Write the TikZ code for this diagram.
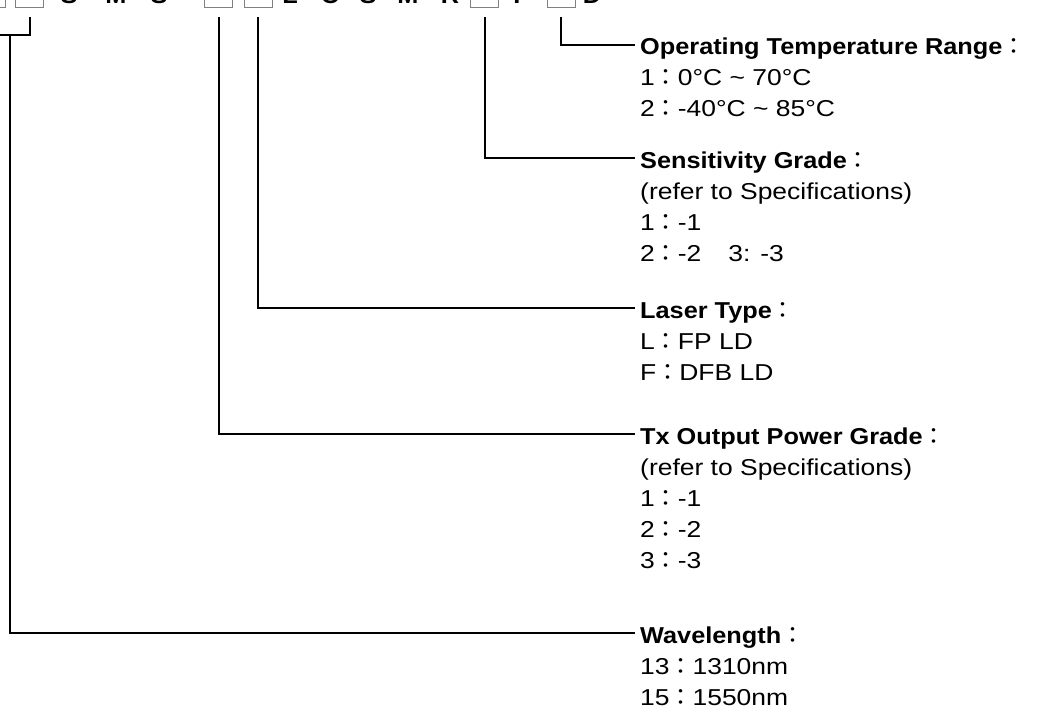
\documentclass[tikz,border=0pt]{standalone}
\usepackage{fontspec}
\setmainfont{Liberation Sans}[FakeStretch=1.15]
\newfontfamily\headfont{Liberation Sans}[FakeStretch=1.1]
\newfontfamily\cjk{Noto Sans CJK TC}
\newcommand{\fc}{{\cjk ：}}
\newcommand{\fieldhead}[1]{{\headfont\bfseries #1}\fc}
\newcommand{\fieldlist}[1]{\begin{tabular}[t]{@{}l@{}}#1\end{tabular}}

\begin{document}
\begin{tikzpicture}[x=1pt,y=-1pt]
        \tikzstyle{slot}=[draw=gray, line width=0.8pt, minimum width=28pt, minimum height=24pt, inner sep=0pt]
        \tikzstyle{code}=[font=\fontsize{23}{23}\selectfont\headfont\bfseries, anchor=base, inner sep=0pt]
        \tikzstyle{field}=[font=\fontsize{23}{31}\selectfont, anchor=base west, inner sep=0pt]
        \tikzstyle{lead}=[line width=2pt]

        \useasboundingbox (0,0) rectangle (1045,718);

        % part number, cut off at the top
        \node[slot] (wl1) at (-9,-5) {};
        \node[slot] (wl2) at (29.5,-5) {};
        \node[slot] (tx) at (218.5,-5) {};
        \node[slot] (lt) at (258,-5) {};
        \node[slot] (sg) at (484.5,-5) {};
        \node[slot] (ot) at (561,-5) {};
        \foreach \ch/\px in {S/69,M/116,S/159,L/290,C/330,S/368,M/408,R/450,I/517,D/592}
            \node[code] at (\px,3) {\ch};

        % field descriptions
        \node[field] (otr) at (640,54.5) {\fieldlist{\fieldhead{Operating Temperature Range}\\
            1\fc0°C \textasciitilde{} 70°C\\
            2\fc-40°C \textasciitilde{} 85°C}};
        \node[field] (sgr) at (640,168) {\fieldlist{\fieldhead{Sensitivity Grade}\\
            (refer to Specifications)\\
            1\fc-1\\
            2\fc-2\hspace{27pt}3: -3}};
        \node[field] (ltr) at (640,318) {\fieldlist{\fieldhead{Laser Type}\\
            L\fc FP LD\\
            F\fc DFB LD}};
        \node[field] (txr) at (640,444) {\fieldlist{\fieldhead{Tx Output Power Grade}\\
            (refer to Specifications)\\
            1\fc-1\\
            2\fc-2\\
            3\fc-3}};
        \node[field] (wlr) at (640,643) {\fieldlist{\fieldhead{Wavelength}\\
            13\fc1310nm\\
            15\fc1550nm}};

        % leaders
        \coordinate (wlj) at (10,34.5);
        \draw[lead] ([yshift=-10pt]wl1.south) |- (wlj) -| ([yshift=-10pt]wl2.south);
        \draw[lead] (wlj) |- ([xshift=-5pt,yshift=10pt]wlr.base west);
        \draw[lead] ([yshift=-10pt]tx.south) |- ([xshift=-5pt,yshift=10pt]txr.base west);
        \draw[lead] ([yshift=-10pt]lt.south) |- ([xshift=-5pt,yshift=10pt]ltr.base west);
        \draw[lead] ([yshift=-10pt]sg.south) |- ([xshift=-5pt,yshift=10pt]sgr.base west);
        \draw[lead] ([yshift=-10pt]ot.south) |- ([xshift=-5pt,yshift=10pt]otr.base west);
\end{tikzpicture}
\end{document}
